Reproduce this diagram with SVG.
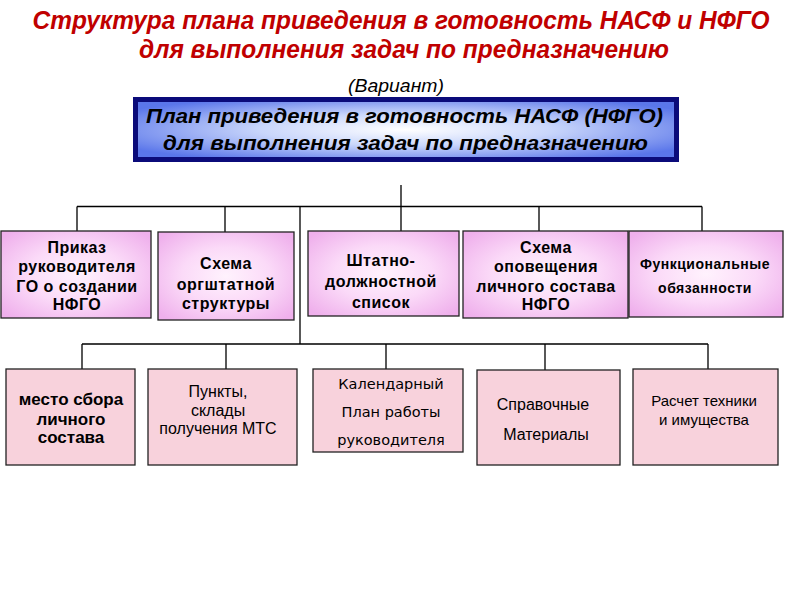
<svg xmlns="http://www.w3.org/2000/svg" width="800" height="600" viewBox="0 0 800 600">
<defs>
<radialGradient id="gBlue" cx="0.5" cy="0.5" r="0.6">
<stop offset="0" stop-color="#ffffff"/>
<stop offset="0.45" stop-color="#c9d6fb"/>
<stop offset="1" stop-color="#5a76ea"/>
</radialGradient>
<radialGradient id="gPink" cx="0.5" cy="0.5" r="0.65">
<stop offset="0" stop-color="#fff2fd"/>
<stop offset="0.5" stop-color="#fbdaf8"/>
<stop offset="1" stop-color="#efb0ec"/>
</radialGradient>
</defs>
<style>
.title{font-family:"Liberation Sans",Arial,sans-serif;font-weight:bold;font-style:italic;font-size:25px;fill:#c00000;text-anchor:middle}
.var{font-family:"Liberation Sans",Arial,sans-serif;font-style:italic;font-size:18px;fill:#000;text-anchor:middle}
.main{font-family:"Liberation Sans",Arial,sans-serif;font-weight:bold;font-style:italic;font-size:21px;fill:#000;text-anchor:middle}
.b1{fill:url(#gPink);stroke:#222;stroke-width:1.3}
.b2{fill:#f8d2dc;stroke:#222;stroke-width:1.3}
.t1{font-family:"Liberation Sans",Arial,sans-serif;font-weight:bold;font-size:16px;fill:#000;text-anchor:middle;letter-spacing:0.5px}
.t1s{font-family:"Liberation Sans",Arial,sans-serif;font-weight:bold;font-size:14px;fill:#000;text-anchor:middle;letter-spacing:0.5px}
.tb{font-family:"Liberation Sans",Arial,sans-serif;font-weight:bold;font-size:17px;fill:#000;text-anchor:middle}
.tr{font-family:"Liberation Sans",Arial,sans-serif;font-size:16px;fill:#000;text-anchor:middle}
.tr15{font-family:"Liberation Sans",Arial,sans-serif;font-size:15px;fill:#000;text-anchor:middle}
.td{font-family:"DejaVu Sans",Verdana,sans-serif;font-size:14.5px;fill:#000;text-anchor:middle}
.ln{fill:none;stroke:#000;stroke-width:1.3}
</style>
<rect width="800" height="600" fill="#fff"/>
<text class="title" x="401" y="29" textLength="737" lengthAdjust="spacingAndGlyphs">Структура плана приведения в готовность НАСФ и НФГО</text>
<text class="title" x="404" y="58" textLength="530" lengthAdjust="spacingAndGlyphs">для выполнения задач по предназначению</text>
<text class="var" x="396" y="92" textLength="96" lengthAdjust="spacingAndGlyphs">(Вариант)</text>
<g id="main">
<rect x="135.5" y="99.5" width="541" height="60" fill="url(#gBlue)" stroke="#0b0b7a" stroke-width="5"/>
<text class="main" x="404.5" y="123" textLength="517" lengthAdjust="spacingAndGlyphs">План приведения в готовность НАСФ (НФГО)</text>
<text class="main" x="405.5" y="150" textLength="485" lengthAdjust="spacingAndGlyphs">для выполнения  задач по предназначению</text>
</g>
<g id="connectors">
<path class="ln" d="M401 185V231 M77 206.5H702 M77 206.5V231 M225 206.5V232 M300 206.5V344 M539 206.5V231 M702 206.5V231"/>
<path class="ln" d="M82 344H708 M82 344V369 M226 344V369 M386 344V369 M545 344V370 M708 344V369"/>
</g>
<g id="n1">
<rect class="b1" x="1" y="231" width="150" height="87"/>
<text class="t1" x="77" y="253">Приказ</text>
<text class="t1" x="77" y="272">руководителя</text>
<text class="t1" x="77" y="292">ГО о создании</text>
<text class="t1" x="77" y="310">НФГО</text>
</g>
<g id="n2">
<rect class="b1" x="158" y="232" width="136" height="88"/>
<text class="t1" x="226" y="269">Схема</text>
<text class="t1" x="226" y="290">оргштатной</text>
<text class="t1" x="226" y="309">структуры</text>
</g>
<g id="n3">
<rect class="b1" x="308" y="231" width="151" height="85"/>
<text class="t1" x="381" y="266">Штатно-</text>
<text class="t1" x="381" y="287">должностной</text>
<text class="t1" x="381" y="308">список</text>
</g>
<g id="n4">
<rect class="b1" x="463" y="231" width="165" height="87"/>
<text class="t1" x="546" y="253">Схема</text>
<text class="t1" x="546" y="272">оповещения</text>
<text class="t1" x="546" y="292">личного состава</text>
<text class="t1" x="546" y="310">НФГО</text>
</g>
<g id="n5">
<rect class="b1" x="629" y="231" width="154" height="86"/>
<text class="t1s" x="705" y="269">Функциональные</text>
<text class="t1s" x="705" y="293">обязанности</text>
</g>
<g id="n6">
<rect class="b2" x="6" y="369" width="129" height="96"/>
<text class="tb" x="71" y="405">место сбора</text>
<text class="tb" x="71" y="425">личного</text>
<text class="tb" x="71" y="443">состава</text>
</g>
<g id="n7">
<rect class="b2" x="148" y="369" width="149" height="96"/>
<text class="tr" x="218" y="397">Пункты,</text>
<text class="tr" x="218" y="416">склады</text>
<text class="tr" x="218" y="434">получения МТС</text>
</g>
<g id="n8">
<rect class="b2" x="313" y="369" width="150" height="83"/>
<text class="td" x="391" y="389">Календарный</text>
<text class="td" x="391" y="417">План работы</text>
<text class="td" x="391" y="445">руководителя</text>
</g>
<g id="n9">
<rect class="b2" x="477" y="370" width="143" height="95"/>
<text class="tr" x="543" y="410">Справочные</text>
<text class="tr" x="546" y="440">Материалы</text>
</g>
<g id="n10">
<rect class="b2" x="633" y="369" width="145" height="96"/>
<text class="tr15" x="704" y="406">Расчет техники</text>
<text class="tr15" x="704" y="425">и имущества</text>
</g>
</svg>
